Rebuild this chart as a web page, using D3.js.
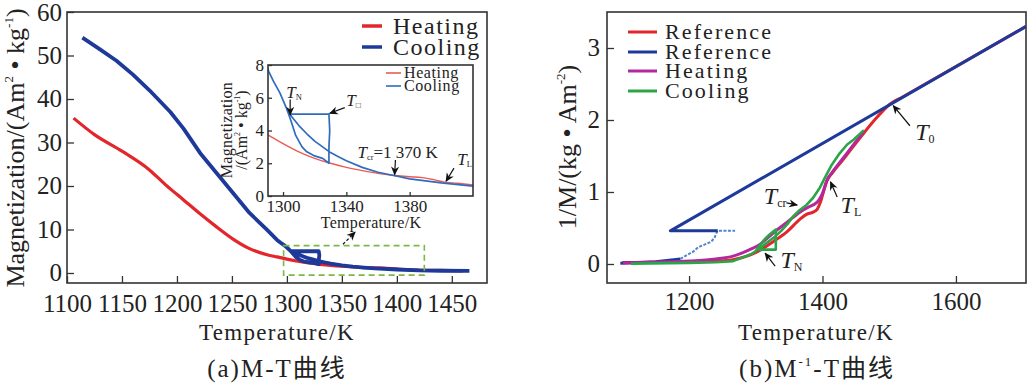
<!DOCTYPE html>
<html>
<head>
<meta charset="utf-8">
<script src="https://cdn.jsdelivr.net/npm/d3@7"></script>
<style>
body { margin: 0; background: #fff; }
text { font-family: "Liberation Serif", "Times New Roman", "Noto Sans CJK SC", serif; fill: #222; }
</style>
</head>
<body>
<svg id="fig" width="1027" height="385"></svg>
<script>
// ---------- data ----------
// panel (a): M-T, [temperature K, magnetization Am2/kg]
const heatingMT = [[1106,35.6],[1125,31.8],[1150,28.0],[1175,23.7],[1190,20.2],[1206,16.8],[1221,13.6],[1236,10.6],
  [1251,7.8],[1266,5.6],[1282,4.2],[1291,3.7],[1300,3.2],[1310,2.7],[1320,2.3],[1330,2.0],[1340,1.75],[1350,1.55],
  [1360,1.38],[1370,1.25],[1380,1.18],[1388,1.12],[1395,1.0],[1402,0.85],[1410,0.78],[1420,0.68],[1440,0.58],[1460,0.5]];
// cooling path, in measuring order (high T -> low T)
const coolingMT = [[1466,0.5],[1440,0.52],[1420,0.6],[1400,0.8],[1380,1.05],[1370,1.25],[1360,1.45],[1350,1.75],
  [1340,2.15],[1335,2.4],[1330,2.65],[1325,3.0],[1320,3.35],[1315,3.8],[1310,4.3],[1305,4.9],[1305,5.0],[1329,5.0],
  [1329.5,4.0],[1329,3.0],[1329,2.0],[1325,2.3],[1320,2.45],[1315,2.7],[1312,3.0],[1308,3.7],[1305,4.6],[1302,5.4],
  [1298,6.3],[1294,7.0],[1291,7.6],[1282,9.9],[1266,13.8],[1251,18.4],[1236,23.0],[1221,27.6],[1206,33.2],
  [1194,37.0],[1175,42.0],[1160,45.6],[1145,48.8],[1130,51.4],[1114,54.1]];
const xTicksA = [1100,1150,1200,1250,1300,1350,1400,1450];
const yTicksA = [0,10,20,30,40,50,60];
const xTicksInset = [1300,1340,1380];
const yTicksInset = [0,2,4,6,8];

// panel (b): 1/M-T, [temperature K, 1/M kg/Am2]
const refHeatInv = [[1100,0.02],[1200,0.03],[1240,0.04],[1266,0.06],[1290,0.12],[1306,0.19],[1326,0.31],[1347,0.45],
  [1366,0.62],[1376,0.69],[1386,0.72],[1392,0.76],[1397,0.86],[1402,1.02],[1407,1.16],[1415,1.27],[1430,1.44],
  [1445,1.62],[1462,1.82],[1480,2.02],[1492,2.14],[1501,2.22],[1520,2.32],[1705,3.3]];
const refCoolLow = [[1097,0.01],[1150,0.03],[1187,0.07]];
const refCoolStep = [[1187,0.07],[1196,0.12],[1206,0.17],[1212,0.22],[1218,0.25],[1226,0.28],[1233,0.31],
  [1238,0.36],[1241,0.43],[1243,0.46],[1269,0.46]];
const refCoolHigh = [[1243,0.46],[1172,0.46],[1705,3.3]];
const heatingInv = [[1101,0.015],[1150,0.025],[1200,0.04],[1240,0.07],[1266,0.11],[1286,0.18],[1306,0.27],[1326,0.43],
  [1347,0.58],[1366,0.72],[1381,0.8],[1388,0.83],[1394,0.88],[1400,0.98],[1406,1.15],[1415,1.28],[1430,1.46],
  [1445,1.64],[1462,1.84]];
const coolingInv = [[1462,1.86],[1447,1.73],[1437,1.66],[1426,1.54],[1414,1.38],[1406,1.24],[1396,1.06],[1386,0.92],
  [1376,0.82],[1366,0.75],[1356,0.66],[1347,0.55],[1338,0.46],[1330,0.39],[1320,0.32],[1312,0.26],[1304,0.2],
  [1330,0.2],[1330,0.48],[1322,0.42],[1314,0.35],[1306,0.26],[1300,0.18],[1294,0.14],[1286,0.11],[1266,0.04],
  [1240,0.025],[1200,0.015],[1113,0.005]];
const xTicksB = [1200,1400,1600];
const yTicksB = [0,1,2,3];

const RED = "#e3262b", BLUE = "#1d3a9a", PURPLE = "#b3289c", GREEN = "#2ba548";

// ---------- setup ----------
const svg = d3.select("#fig");
const defs = svg.append("defs");
defs.append("marker").attr("id","arr").attr("viewBox","0 0 10 10")
  .attr("refX",9).attr("refY",5).attr("markerWidth",9).attr("markerHeight",9)
  .attr("markerUnits","userSpaceOnUse").attr("orient","auto")
  .append("path").attr("d","M0,0.5 L10,5 L0,9.5 L3,5 Z").attr("fill","#111");

function clip(id, x0, y0, x1, y1) {
  defs.append("clipPath").attr("id", id).append("rect")
    .attr("x", x0).attr("y", y0).attr("width", x1 - x0).attr("height", y1 - y0);
}

function axes(g, x, y, xt, yt, fs, tick, padX, padY) {
  const [x0, x1] = x.range(), [y0, y1] = y.range();
  const ax = g.append("g").attr("transform", "translate(0," + y0 + ")")
    .call(d3.axisBottom(x).tickValues(xt).tickSize(-tick).tickPadding(padX).tickFormat(d3.format("d")));
  const ay = g.append("g").attr("transform", "translate(" + x0 + ",0)")
    .call(d3.axisLeft(y).tickValues(yt).tickSize(-tick).tickPadding(padY).tickFormat(d3.format("d")));
  [ax, ay].forEach(a => {
    a.select(".domain").remove();
    a.attr("font-family", null).attr("font-size", fs).attr("color", "#333");
    a.selectAll("line").attr("stroke-width", 1.3);
  });
  g.append("rect").attr("x", x0).attr("y", y1).attr("width", x1 - x0).attr("height", y0 - y1)
    .attr("fill", "none").attr("stroke", "#333").attr("stroke-width", 1.6);
}

function arrow(g, x1, y1, x2, y2, dash) {
  g.append("line").attr("x1", x1).attr("y1", y1).attr("x2", x2).attr("y2", y2)
    .attr("stroke", "#111").attr("stroke-width", 1.2)
    .attr("stroke-dasharray", dash || null).attr("marker-end", "url(#arr)");
}

// italic T with subscript
function tLabel(g, x, y, sub, fs) {
  const t = g.append("text").attr("x", x).attr("y", y).attr("font-size", fs);
  t.append("tspan").attr("font-style", "italic").text("T");
  t.append("tspan").attr("font-size", fs * 0.5).attr("dy", fs * 0.12).text(sub);
  return t;
}

// ---------- panel (a) ----------
const xA = d3.scaleLinear().domain([1100, 1482]).range([67, 487]);
const yA = d3.scaleLinear().domain([-2.3, 60]).range([283, 12]);
const gA = svg.append("g");
clip("clipA", 67, 12, 487, 283);
axes(gA, xA, yA, xTicksA, yTicksA, 25, 7, 11, 5);

const lineA = d3.line().x(d => xA(d[0])).y(d => yA(d[1]));
const smoothA = d3.line().curve(d3.curveMonotoneX).x(d => xA(d[0])).y(d => yA(d[1]));
const plotA = gA.append("g").attr("clip-path", "url(#clipA)");
plotA.append("path").datum(heatingMT).attr("d", smoothA).attr("fill", "none")
  .attr("stroke", RED).attr("stroke-width", 3.2).attr("stroke-linejoin", "round");
plotA.append("path").datum(coolingMT).attr("d", lineA).attr("fill", "none")
  .attr("stroke", BLUE).attr("stroke-width", 3.8).attr("stroke-linejoin", "round");

// zoom box + arrow to inset
gA.append("rect").attr("x", xA(1297)).attr("y", yA(6.3))
  .attr("width", xA(1425) - xA(1297)).attr("height", yA(-0.5) - yA(6.3))
  .attr("fill", "none").attr("stroke", "#7cb846").attr("stroke-width", 1.6).attr("stroke-dasharray", "6,4");
arrow(gA, xA(1351), yA(6.6), xA(1362), yA(9.4), "3,2");

// legend (a)
[["Heating", RED, 26], ["Cooling", BLUE, 47]].forEach(([name, c, yy]) => {
  gA.append("line").attr("x1", 362).attr("x2", 382).attr("y1", yy).attr("y2", yy)
    .attr("stroke", c).attr("stroke-width", 3.5);
  gA.append("text").attr("x", 393).attr("y", yy + 8).attr("font-size", 24)
    .attr("letter-spacing", 1.5).text(name);
});

// axis titles (a)
const ylA = gA.append("text").attr("transform", "translate(24,148) rotate(-90)")
  .attr("text-anchor", "middle").attr("font-size", 26);
ylA.append("tspan").text("Magnetization/(Am");
ylA.append("tspan").attr("font-size", 13).attr("dy", -11).text("2");
ylA.append("tspan").attr("dy", 11).text(" \u2022 kg");
ylA.append("tspan").attr("font-size", 13).attr("dy", -11).text("-1");
ylA.append("tspan").attr("dy", 11).text(")");
gA.append("text").attr("x", 277).attr("y", 340).attr("text-anchor", "middle").attr("font-size", 23)
  .attr("letter-spacing", 1.3).text("Temperature/K");
gA.append("text").attr("x", 277).attr("y", 377).attr("text-anchor", "middle").attr("font-size", 25)
  .attr("letter-spacing", 2).text("(a)M-T曲线");

// inset
const xI = d3.scaleLinear().domain([1290.5, 1420]).range([268, 473]);
const yI = d3.scaleLinear().domain([0, 8]).range([196, 65]);
const gI = svg.append("g");
gI.append("rect").attr("x", 268).attr("y", 65).attr("width", 205).attr("height", 131).attr("fill", "#fff");
clip("clipI", 268, 65, 473, 196);
const lineI = d3.line().x(d => xI(d[0])).y(d => yI(d[1]));
const smoothI = d3.line().curve(d3.curveMonotoneX).x(d => xI(d[0])).y(d => yI(d[1]));
const plotI = gI.append("g").attr("clip-path", "url(#clipI)");
plotI.append("path").datum(heatingMT).attr("d", smoothI).attr("fill", "none")
  .attr("stroke", "#ec5a57").attr("stroke-width", 1.4);
plotI.append("path").datum(coolingMT).attr("d", lineI).attr("fill", "none")
  .attr("stroke", "#2f6cbd").attr("stroke-width", 1.7).attr("stroke-linejoin", "round");
axes(gI, xI, yI, xTicksInset, yTicksInset, 17, 4, 4, 4);

[["Heating", "#ec5a57", 73], ["Cooling", "#2f6cbd", 86]].forEach(([name, c, yy]) => {
  gI.append("line").attr("x1", 386).attr("x2", 401).attr("y1", yy).attr("y2", yy)
    .attr("stroke", c).attr("stroke-width", 1.6);
  gI.append("text").attr("x", 404).attr("y", yy + 5).attr("font-size", 16)
    .attr("letter-spacing", 0.6).text(name);
});
gI.append("text").attr("transform", "translate(232,130) rotate(-90)").attr("text-anchor", "middle")
  .attr("font-size", 16).attr("letter-spacing", 0.3).text("Magnetization");
const ylI = gI.append("text").attr("transform", "translate(247,130) rotate(-90)").attr("text-anchor", "middle")
  .attr("font-size", 16);
ylI.append("tspan").text("/(Am");
ylI.append("tspan").attr("font-size", 8).attr("dy", -7).text("2");
ylI.append("tspan").attr("dy", 7).text(" \u2022 kg");
ylI.append("tspan").attr("font-size", 8).attr("dy", -7).text("-1");
ylI.append("tspan").attr("dy", 7).text(")");
gI.append("text").attr("x", 371).attr("y", 228).attr("text-anchor", "middle").attr("font-size", 16)
  .attr("letter-spacing", 0.3).text("Temperature/K");

// inset annotations
tLabel(gI, xI(1302), yI(6.0), "N", 17);
arrow(gI, xI(1304.5), yI(5.9), xI(1304.5), yI(4.95));
tLabel(gI, xI(1340), yI(5.5), "\u25A1", 17);
arrow(gI, xI(1339), yI(5.4), xI(1329.5), yI(5.05));
const tcr = tLabel(gI, xI(1347), yI(2.3), "cr", 17);
tcr.append("tspan").attr("dy", -2).text("=1 370 K");
arrow(gI, xI(1371), yI(2.2), xI(1370.5), yI(1.3));
tLabel(gI, xI(1410), yI(1.9), "L", 17);
arrow(gI, xI(1408), yI(1.7), xI(1403), yI(0.9));

// ---------- panel (b) ----------
const xB = d3.scaleLinear().domain([1077, 1705]).range([607, 1026]);
const yB = d3.scaleLinear().domain([-0.264, 3.5]).range([283, 12]);
const gB = svg.append("g");
clip("clipB", 607, 12, 1026, 283);
axes(gB, xB, yB, xTicksB, yTicksB, 25, 7, 9, 7);

const lineB = d3.line().x(d => xB(d[0])).y(d => yB(d[1]));
const smoothB = d3.line().curve(d3.curveMonotoneX).x(d => xB(d[0])).y(d => yB(d[1]));
const plotB = gB.append("g").attr("clip-path", "url(#clipB)");
function pathB(data, c, w, dash, gen) {
  plotB.append("path").datum(data).attr("d", gen || lineB).attr("fill", "none")
    .attr("stroke", c).attr("stroke-width", w).attr("stroke-linejoin", "round")
    .attr("stroke-dasharray", dash || null);
}
pathB(refHeatInv, RED, 3, null, smoothB);
pathB(refCoolLow, BLUE, 3);
pathB(refCoolStep, "#4f86d0", 2, "3,1.5");
pathB(refCoolHigh, BLUE, 3);
pathB(heatingInv, PURPLE, 3, null, smoothB);
pathB(coolingInv, GREEN, 2.6);

// legend (b)
[["Reference", RED, 32], ["Reference", BLUE, 52], ["Heating", PURPLE, 71], ["Cooling", GREEN, 91]]
  .forEach(([name, c, yy]) => {
    gB.append("line").attr("x1", 628).attr("x2", 657).attr("y1", yy).attr("y2", yy)
      .attr("stroke", c).attr("stroke-width", 3);
    gB.append("text").attr("x", 665).attr("y", yy + 7).attr("font-size", 22)
      .attr("letter-spacing", 2.1).text(name);
  });

// annotations (b)
tLabel(gB, xB(1539), yB(1.72), "0", 24);
arrow(gB, xB(1531), yB(1.92), xB(1506), yB(2.2));
tLabel(gB, xB(1312), yB(0.83), "cr", 24);
arrow(gB, xB(1346), yB(0.85), xB(1362), yB(0.82));
tLabel(gB, xB(1427), yB(0.71), "L", 24);
arrow(gB, xB(1422), yB(0.93), xB(1412), yB(1.14));
tLabel(gB, xB(1337), yB(-0.06), "N", 24);
arrow(gB, xB(1329), yB(-0.03), xB(1314), yB(0.15));

// axis titles (b)
const ylB = gB.append("text").attr("transform", "translate(576,147) rotate(-90)")
  .attr("text-anchor", "middle").attr("font-size", 26);
ylB.append("tspan").text("1/M/(kg \u2022 Am");
ylB.append("tspan").attr("font-size", 13).attr("dy", -11).text("-2");
ylB.append("tspan").attr("dy", 11).text(")");
gB.append("text").attr("x", 816).attr("y", 340).attr("text-anchor", "middle").attr("font-size", 23)
  .attr("letter-spacing", 1.3).text("Temperature/K");
const capB = gB.append("text").attr("x", 817).attr("y", 377).attr("text-anchor", "middle").attr("font-size", 25)
  .attr("letter-spacing", 2);
capB.append("tspan").text("(b)M");
capB.append("tspan").attr("font-size", 13).attr("dy", -11).text("-1");
capB.append("tspan").attr("dy", 11).text("-T曲线");
</script>
</body>
</html>
